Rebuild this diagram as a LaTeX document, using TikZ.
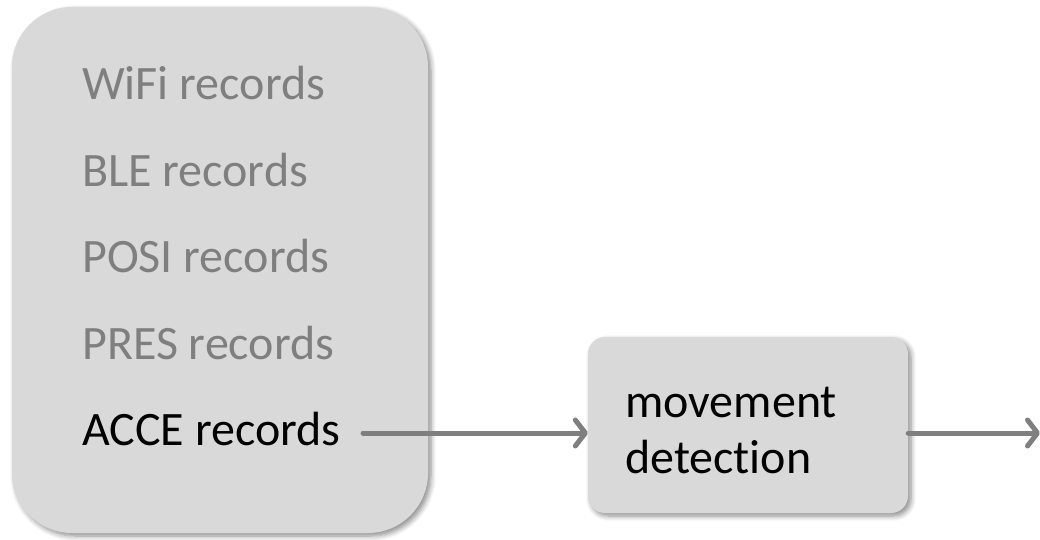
\documentclass[tikz,border=0pt]{standalone}
\usepackage{fontspec}
\setmainfont[Ligatures=NoCommon]{Carlito}
\usetikzlibrary{arrows.meta,shadows.blur}
\definecolor{boxfill}{HTML}{D9D9D9}
\definecolor{greytext}{HTML}{7F7F7F}
\definecolor{linegrey}{HTML}{7F7F7F}
\tikzset{
  panel/.style={fill=boxfill, draw=none, rounded corners=#1,
    blur shadow={shadow xshift=3pt, shadow yshift=-3pt, shadow blur steps=6, shadow opacity=45, shadow blur radius=5pt}},
  rec/.style={anchor=base west, inner sep=0pt, font=\fontsize{48}{56}\selectfont},
  flow/.style={draw=linegrey, line width=5pt, line cap=round,
    -{Straight Barb[length=10pt, width=26pt, round]}},
}
\begin{document}
\begin{tikzpicture}[x=1pt, y=-1pt]
\useasboundingbox (0,0) rectangle (1040,540);
\node[panel=60pt, minimum width=416pt, minimum height=526pt, inner sep=0pt] (src) at (220,270) {};
\node[rec, text=greytext] (wifi) at (82,100) {WiFi records};
\node[rec, text=greytext] (ble)  at (82,186) {BLE records};
\node[rec, text=greytext] (posi) at (82,272) {POSI records};
\node[rec, text=greytext] (pres) at (82,359) {PRES records};
\node[rec, text=black]    (acce) at (82,445) {ACCE records};
\node[panel=17pt, minimum width=320pt, minimum height=176pt, inner sep=0pt] (mv) at (748,425) {};
\node[rec] (mv1) at (625,417) {movement};
\node[rec] (mv2) at (625,473) {detection};
\coordinate (a1s) at (363,433);
\coordinate (out) at (1040,433);
\draw[flow] (a1s) -- (a1s -| mv.west);
\draw[flow] (a1s -| mv.east) -- (out);
\end{tikzpicture}
\end{document}
